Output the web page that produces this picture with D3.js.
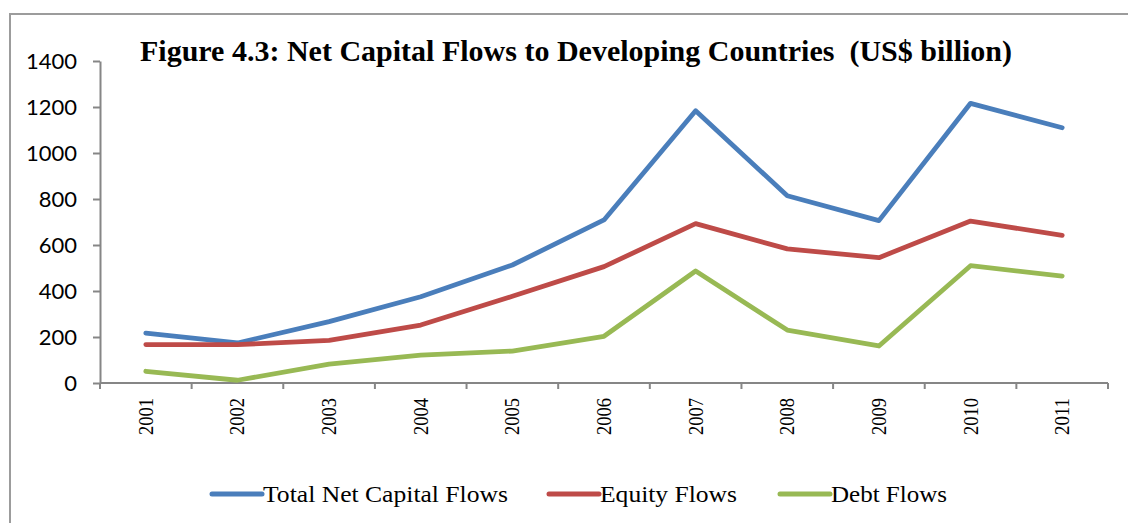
<!DOCTYPE html>
<html>
<head>
<meta charset="utf-8">
<script src="https://cdn.jsdelivr.net/npm/d3@7"></script>
<style>
  html, body { margin: 0; padding: 0; background: #fff; }
  svg { display: block; }
</style>
</head>
<body>
<svg id="chart" width="1128" height="523"></svg>
<script>
// Net capital flows to developing countries, US$ billion
const years = ["2001","2002","2003","2004","2005","2006","2007","2008","2009","2010","2011"];
const totalFlows  = [217, 174, 267, 375, 513, 709, 1184, 814, 706, 1216, 1110];
const equityFlows = [167, 167, 185, 252, 377, 506, 693, 583, 545, 704, 642];
const debtFlows   = [51, 12, 82, 121, 139, 203, 487, 230, 161, 510, 465];
const yTicks = [0, 200, 400, 600, 800, 1000, 1200, 1400];
const seriesNames = ["Total Net Capital Flows", "Equity Flows", "Debt Flows"];
const seriesColors = ["#4a7ebb", "#be4b48", "#98b954"];

const series = [totalFlows, equityFlows, debtFlows].map((values, i) => ({
  name: seriesNames[i], color: seriesColors[i], values
}));

const svg = d3.select("#chart");
const plot = { left: 100, right: 1108, top: 61, bottom: 383 };
const axisColor = "#868686";

// outer frame (extends past the right and bottom edges)
svg.append("path")
  .attr("d", "M10,530 L10,14 L1140,14")
  .attr("fill", "none")
  .attr("stroke", "#9c9c9c")
  .attr("stroke-width", 2);

const x = d3.scaleBand().domain(years).range([plot.left, plot.right]).padding(0);
const y = d3.scaleLinear().domain([0, 1400]).range([plot.bottom, plot.top]);

// y axis
const yAxis = svg.append("g")
  .attr("transform", `translate(${plot.left},0)`)
  .call(d3.axisLeft(y).tickValues(yTicks).tickFormat(d3.format("d"))
    .tickSize(7).tickPadding(16).tickSizeOuter(0));
yAxis.select(".domain").attr("stroke", axisColor).attr("stroke-width", 2);
yAxis.selectAll(".tick line").attr("stroke", axisColor).attr("stroke-width", 2);
yAxis.selectAll(".tick text")
  .attr("fill", "#000")
  .style("font-family", "Lato, 'Open Sans', sans-serif")
  .style("font-size", "22px")
  .attr("dy", "0.35em");

// x axis: baseline with ticks at category boundaries
svg.append("line")
  .attr("x1", plot.left).attr("x2", plot.right)
  .attr("y1", plot.bottom).attr("y2", plot.bottom)
  .attr("stroke", axisColor).attr("stroke-width", 2);
const boundaries = years.map(d => x(d)).concat([x(years[years.length - 1]) + x.bandwidth()]);
svg.append("g").selectAll("line")
  .data(boundaries)
  .join("line")
  .attr("x1", d => d).attr("x2", d => d)
  .attr("y1", plot.bottom).attr("y2", plot.bottom + 6)
  .attr("stroke", axisColor).attr("stroke-width", 2);

// rotated year labels
svg.append("g").selectAll("text")
  .data(years)
  .join("text")
  .attr("transform", d => `translate(${x(d) + x.bandwidth() / 2},${plot.bottom + 15}) rotate(-90)`)
  .attr("text-anchor", "end")
  .attr("dy", "0.35em")
  .attr("textLength", 37)
  .attr("lengthAdjust", "spacingAndGlyphs")
  .style("font-family", "'Liberation Serif', 'Times New Roman', serif")
  .style("font-size", "20px")
  .text(d => d);

// lines
const line = d3.line()
  .x((d, i) => x(years[i]) + x.bandwidth() / 2)
  .y(d => y(d));

svg.append("g").selectAll("path")
  .data(series)
  .join("path")
  .attr("d", d => line(d.values))
  .attr("fill", "none")
  .attr("stroke", d => d.color)
  .attr("stroke-width", 4.8)
  .attr("stroke-linejoin", "round")
  .attr("stroke-linecap", "round");

// title
svg.append("text")
  .attr("x", 140).attr("y", 61)
  .attr("textLength", 872)
  .attr("lengthAdjust", "spacingAndGlyphs")
  .style("font-family", "'Liberation Serif', 'Times New Roman', serif")
  .style("font-weight", "bold")
  .style("font-size", "29px")
  .style("white-space", "pre")
  .text("Figure 4.3: Net Capital Flows to Developing Countries\u00A0 (US$ billion)");

// legend
const legendItems = [
  { lineX: 212, textX: 263, textLen: 245 },
  { lineX: 549, textX: 600, textLen: 137 },
  { lineX: 780, textX: 831, textLen: 116 }
];
const legend = svg.append("g").selectAll("g")
  .data(series)
  .join("g");
legend.append("line")
  .attr("x1", (d, i) => legendItems[i].lineX)
  .attr("x2", (d, i) => legendItems[i].textX - 1)
  .attr("y1", 494).attr("y2", 494)
  .attr("stroke", d => d.color)
  .attr("stroke-width", 5)
  .attr("stroke-linecap", "round");
legend.append("text")
  .attr("x", (d, i) => legendItems[i].textX)
  .attr("y", 502)
  .attr("textLength", (d, i) => legendItems[i].textLen)
  .attr("lengthAdjust", "spacingAndGlyphs")
  .style("font-family", "'Liberation Serif', 'Times New Roman', serif")
  .style("font-size", "24px")
  .text(d => d.name);
</script>
</body>
</html>
